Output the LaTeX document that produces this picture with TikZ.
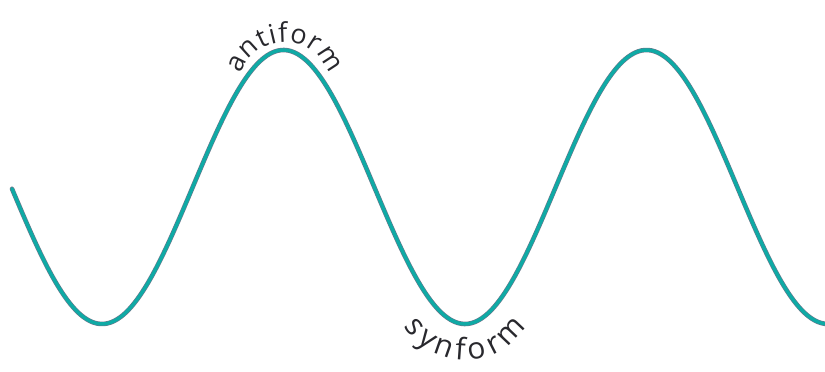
\documentclass[tikz,border=0pt]{standalone}
\usepackage{fontspec}
\setmainfont{Open Sans}
\usepackage{xcolor}
\usetikzlibrary{decorations.text}

\definecolor{foldteal}{RGB}{15,170,165}
\definecolor{folddark}{RGB}{40,60,90}
\definecolor{labelgray}{RGB}{40,40,45}

\begin{document}
\begin{tikzpicture}[x=1pt,y=1pt,
  foldline/.style={line width=3.4pt,foldteal,line cap=round},
  foldedge/.style={line width=4.6pt,folddark!70,line cap=round},
  foldlabel/.style 2 args={decorate,decoration={text effects along path,text align=center,
      text effects/.cd,text along path,
      characters={text=labelgray,font=\fontsize{#1}{#1}\selectfont,inner sep=0pt,anchor=base},
      character widths={inner xsep=#2,inner ysep=0pt,font=\fontsize{#1}{#1}\selectfont}}}]
\useasboundingbox (0,0) rectangle (825,372);

% folded layer
\draw[foldedge] plot[domain=12:825,samples=240,smooth] (\x,{185-137*cos((\x-102)/363*360)});
\draw[foldline] plot[domain=12:825,samples=240,smooth] (\x,{185-137*cos((\x-102)/363*360)});

% labels on the hinges
\path[foldlabel={27}{0.5pt},decoration={text=antiform}]
  ([shift={(175:46)}]285,284) arc[start angle=175,end angle=5,radius=46];
\path[foldlabel={30}{2.4pt},decoration={text=synform}]
  ([shift={(180:72)}]465,84) arc[start angle=180,end angle=360,radius=72];
\end{tikzpicture}
\end{document}
